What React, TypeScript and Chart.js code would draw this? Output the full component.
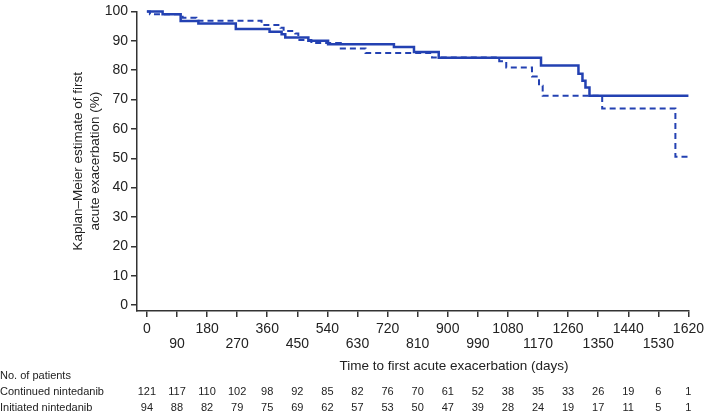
import React, { useEffect, useRef } from 'react';
import { Chart, registerables } from 'chart.js';

Chart.register(...registerables);

// Kaplan–Meier steps (day, % free of first acute exacerbation)
const continuedDays = [0, 47, 101, 154, 266, 367, 403, 414, 483, 542, 739, 799, 873, 1179, 1291, 1303, 1312, 1324, 1620];
const continuedSurvival = [100, 99.0, 96.7, 95.9, 94.0, 93.1, 92.2, 91.1, 90.0, 88.8, 87.9, 86.2, 84.2, 81.6, 78.8, 76.4, 74.1, 71.3, 71.3];

const initiatedDays = [0, 9, 107, 148, 343, 400, 409, 444, 453, 492, 580, 654, 853, 1054, 1075, 1152, 1173, 1184, 1362, 1581, 1629];
const initiatedSurvival = [100, 99.0, 97.8, 96.8, 95.4, 94.4, 93.3, 92.5, 90.3, 89.2, 87.4, 85.8, 84.3, 83.0, 80.9, 77.8, 74.7, 71.3, 66.9, 50.5, 50.5];

const xTickValues = [0, 90, 180, 270, 360, 450, 540, 630, 720, 810, 900, 990, 1080, 1170, 1260, 1350, 1440, 1530, 1620];
const yTickValues = [0, 10, 20, 30, 40, 50, 60, 70, 80, 90, 100];

const riskTableTitle = 'No. of patients';
const riskRowLabels = ['Continued nintedanib', 'Initiated nintedanib'];
const continuedAtRisk = [121, 117, 110, 102, 98, 92, 85, 82, 76, 70, 61, 52, 38, 35, 33, 26, 19, 6, 1];
const initiatedAtRisk = [94, 88, 82, 79, 75, 69, 62, 57, 53, 50, 47, 39, 28, 24, 19, 17, 11, 5, 1];

const xTitle = 'Time to first acute exacerbation (days)';
const yTitleLines = ['Kaplan–Meier estimate of first', 'acute exacerbation (%)'];

const FONT = '"Liberation Sans", Arial, Helvetica, sans-serif';
const BLUE = '#2341b2';
const TEXT = '#222222';
const AXIS = '#333333';

export default function App() {
  const ref = useRef<HTMLCanvasElement | null>(null);

  useEffect(() => {
    document.body.style.margin = '0';
    const canvas = ref.current;
    if (!canvas) return;

    const overlay = {
      id: 'overlay',
      afterDraw(chart: any) {
        const ctx = chart.ctx as CanvasRenderingContext2D;
        const xs = chart.scales.x;
        ctx.save();
        ctx.fillStyle = TEXT;
        ctx.textBaseline = 'middle';

        // x-axis title
        ctx.font = `13.5px ${FONT}`;
        ctx.textAlign = 'center';
        ctx.fillText(xTitle, 454, 366);

        // y-axis title (two rotated lines)
        const yMid = (chart.chartArea.top + chart.chartArea.bottom) / 2;
        [78, 95].forEach((cx, i) => {
          ctx.save();
          ctx.translate(cx, yMid);
          ctx.rotate(-Math.PI / 2);
          ctx.textAlign = 'center';
          ctx.fillText(yTitleLines[i], 0, 0);
          ctx.restore();
        });

        // risk table
        ctx.font = `11px ${FONT}`;
        ctx.textAlign = 'left';
        ctx.fillText(riskTableTitle, 0, 376);
        ctx.fillText(riskRowLabels[0], 0, 392);
        ctx.fillText(riskRowLabels[1], 0, 408);
        ctx.textAlign = 'center';
        xTickValues.forEach((v, i) => {
          const px = xs.getPixelForValue(v);
          ctx.fillText(String(continuedAtRisk[i]), px, 392);
          ctx.fillText(String(initiatedAtRisk[i]), px, 408);
        });
        ctx.restore();
      },
    };

    const chart = new Chart(canvas, {
      type: 'line',
      data: {
        datasets: [
          {
            label: 'Continued nintedanib',
            data: continuedDays.map((d, i) => ({ x: d, y: continuedSurvival[i] })),
            stepped: 'before',
            borderColor: BLUE,
            borderWidth: 2.5,
            pointRadius: 0,
            fill: false,
            clip: false,
          },
          {
            label: 'Initiated nintedanib',
            data: initiatedDays.map((d, i) => ({ x: d, y: initiatedSurvival[i] })),
            stepped: 'before',
            borderColor: BLUE,
            borderWidth: 2,
            borderDash: [6, 4],
            pointRadius: 0,
            fill: false,
            clip: false,
          },
        ],
      },
      options: {
        responsive: true,
        maintainAspectRatio: false,
        animation: false,
        layout: { padding: { top: 6, right: 15, left: 0, bottom: 0 } },
        plugins: {
          legend: { display: false },
          tooltip: { enabled: false },
        },
        scales: {
          x: {
            type: 'linear',
            min: -29.6,
            max: 1620,
            afterBuildTicks: (s: any) => {
              s.ticks = xTickValues.map((v) => ({ value: v }));
            },
            afterFit: (s: any) => {
              s.height = 101;
            },
            grid: { drawOnChartArea: false, drawTicks: true, tickLength: 6, color: AXIS, lineWidth: 1.5 },
            border: { display: true, color: AXIS, width: 1.5 },
            ticks: {
              autoSkip: false,
              maxRotation: 0,
              minRotation: 0,
              padding: 5,
              color: TEXT,
              font: { family: FONT, size: 14, lineHeight: 1.05 },
              callback: (v: any, i: number) => (i % 2 === 0 ? String(v) : ['', String(v)]),
            },
          },
          y: {
            type: 'linear',
            min: -2,
            max: 100,
            afterBuildTicks: (s: any) => {
              s.ticks = yTickValues.map((v) => ({ value: v }));
            },
            afterFit: (s: any) => {
              s.width = 137;
            },
            grid: { drawOnChartArea: false, drawTicks: true, tickLength: 6, color: AXIS, lineWidth: 1.5 },
            border: { display: true, color: AXIS, width: 1.5 },
            ticks: {
              padding: 3,
              color: TEXT,
              font: { family: FONT, size: 14 },
              callback: (v: any) => String(v),
            },
          },
        },
      },
      plugins: [overlay],
    } as any);

    return () => chart.destroy();
  }, []);

  return (
    <div style={{ position: 'fixed', left: 0, top: 0, width: 709, height: 412, background: '#fff' }}>
      <canvas ref={ref} />
    </div>
  );
}
